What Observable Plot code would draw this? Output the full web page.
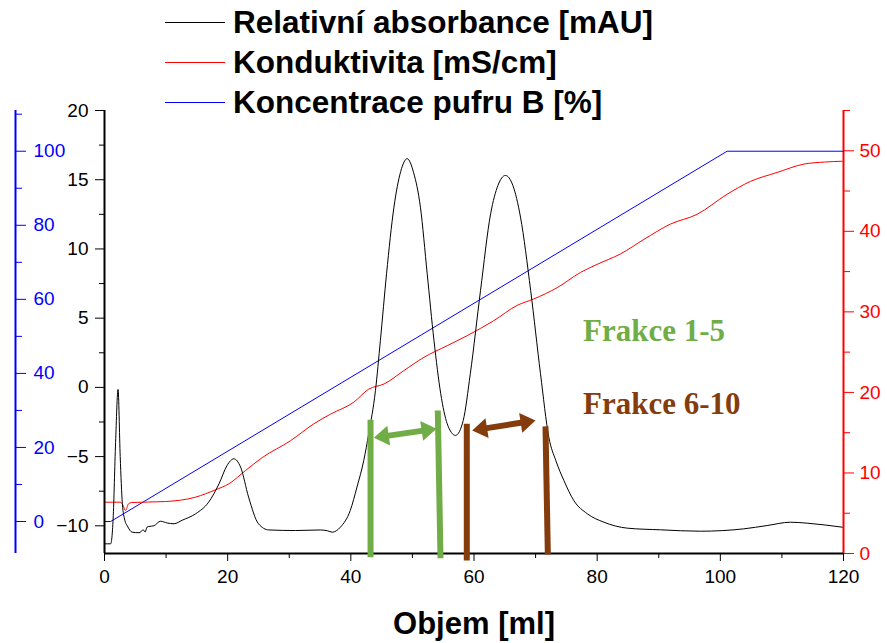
<!DOCTYPE html>
<html>
<head>
<meta charset="utf-8">
<script src="https://cdn.jsdelivr.net/npm/d3@7"></script>
<script src="https://cdn.jsdelivr.net/npm/@observablehq/plot@0.6"></script>
<style>
  body { margin: 0; background: #fff; }
  #wrap { position: relative; width: 887px; height: 643px; font-family: "Liberation Sans", Arial, sans-serif; }
  #wrap svg { position: absolute; left: 0; top: 0; }
  #legend { position: absolute; left: 165px; top: 2px; }
  .row { display: flex; align-items: center; height: 40px; }
  .row .sw { width: 60px; height: 0; border-top: 1px solid; margin-right: 8px; }
  .row span { font-weight: bold; font-size: 31.5px; color: #000; white-space: nowrap; }
</style>
</head>
<body>
<div id="wrap"><div id="legend"></div></div>
<script>
// ---- Data ----
const absorbanceMl = [0, 1.0, 1.4, 1.8, 2.2, 2.55, 2.9, 3.3, 3.7, 4.5, 5.6, 6.3, 6.6, 6.9, 7.2, 8.0, 9.1, 10.2, 11.3, 12.6, 14.8, 16.9, 18.6, 19.9, 21.0, 22.1, 23.4, 25.0, 26.7, 31.0, 35.1, 36.2, 37.0, 38.3, 39.9, 41.0, 42.1, 42.9, 44.0, 44.8, 45.8, 47.0, 48.1, 49.15, 50.2, 51.3, 52.4, 53.5, 54.6, 55.65, 57.0, 58.25, 59.4, 61.06, 62.7, 63.9, 65.1, 66.3, 67.55, 69.2, 70.8, 72.15, 73.3, 74.6, 76.2, 78.4, 81.1, 84.9, 90.3, 96.8, 103.8, 107.6, 111.4, 114.1, 119.8];
const absorbanceMAU = [-11.3, -11.3, -9.5, -4, -0.15, -5, -8.4, -9.6, -10.0, -10.46, -10.5, -10.3, -10.45, -10.1, -10.05, -10.0, -9.67, -9.8, -9.85, -9.6, -9.13, -8.3, -6.96, -5.64, -5.16, -5.76, -7.93, -9.85, -10.3, -10.34, -10.3, -10.36, -10.46, -10.1, -8.9, -7.2, -5.28, -3.35, -0.22, 3.39, 8.21, 13.02, 15.6, 16.52, 15.5, 13.02, 8.21, 3.39, -0.46, -2.63, -3.47, -2.39, 0.98, 7.0, 12.54, 14.6, 15.31, 14.6, 12.3, 7.0, 0.98, -3.6, -5.3, -6.73, -8.17, -9.13, -9.74, -10.17, -10.29, -10.39, -10.22, -9.98, -9.74, -9.81, -10.1];

const conductivityMl = [0, 2.6, 3.0, 3.4, 3.9, 4.4, 9.9, 14.8, 18.0, 20.2, 22.9, 25.6, 30.2, 34.0, 36.7, 40.5, 42.9, 45.4, 48.6, 51.85, 55.65, 58.9, 63.2, 67.0, 69.7, 73.5, 77.3, 80.0, 83.8, 87.6, 91.9, 96.2, 101.1, 104.9, 109.2, 113.6, 116.9, 119.8];
const conductivityMS = [6.37, 6.37, 6.0, 5.34, 6.17, 6.33, 6.45, 7.0, 7.9, 8.65, 10.3, 11.9, 14.0, 16.1, 17.3, 18.8, 20.4, 21.05, 22.7, 24.35, 25.8, 27.05, 28.9, 30.8, 31.6, 33.0, 34.9, 35.9, 37.2, 39.0, 40.9, 42.1, 44.6, 46.2, 47.3, 48.35, 48.6, 48.7];

const bufferMl = [0, 1.0, 101.1, 120];
const bufferPct = [0, 0, 100, 100];

// fraction boundaries (ml, mAU on left axis)
const fraction15Bars = [
  {x1: 43.2, y1: -12.27, x2: 43.2, y2: -2.34},
  {x1: 54.56, y1: -12.34, x2: 54.12, y2: -1.67}
];
const fraction610Bars = [
  {x1: 58.83, y1: -12.5, x2: 58.83, y2: -2.63},
  {x1: 71.99, y1: -12.07, x2: 71.61, y2: -2.82}
];
const fraction15Arrow = {x1: 43.74, y1: -3.64, x2: 53.92, y2: -2.99};
const fraction610Arrow = {x1: 59.71, y1: -3.11, x2: 69.99, y2: -2.39};
const fractionLabels = [
  {text: "Frakce 1-5", x: 77.7, y: 3.36},
  {text: "Frakce 6-10", x: 77.7, y: -1.93}
];

const legendItems = ["Relativní absorbance [mAU]", "Konduktivita [mS/cm]", "Koncentrace pufru B [%]"];
const legendColors = ["#000000", "#ff0000", "#0000ff"];

// tick values
const xTicks = [0, 20, 40, 60, 80, 100, 120];
const xMinorTicks = [10, 30, 50, 70, 90, 110];
const absTicks = [-10, -5, 0, 5, 10, 15, 20];
const absMinorTicks = [-7.5, -2.5, 2.5, 7.5, 12.5, 17.5];
const bufferTicks = [0, 20, 40, 60, 80, 100];
const bufferMinorTicks = [10, 30, 50, 70, 90, 110];
const condTicks = [0, 10, 20, 30, 40, 50];
const condMinorTicks = [5, 15, 25, 35, 45, 55];

// ---- Scales ----
const W = 887, H = 643, mL = 104, mR = 44, mT = 110, mB = 90;
const xDomain = [0, 120], absDomain = [-12, 20];
const condDomain = [0, 55], bufferDomain = [-8.64, 111];
const condToAbs = d3.scaleLinear(condDomain, absDomain);
const bufferToAbs = d3.scaleLinear(bufferDomain, absDomain);
const px = d3.scaleLinear(xDomain, [mL, W - mR]);
const py = d3.scaleLinear(absDomain, [H - mB, mT]);

const absData = absorbanceMl.map((x, i) => ({x, y: absorbanceMAU[i]}));
const condData = conductivityMl.map((x, i) => ({x, y: condToAbs(conductivityMS[i])}));
const bufData = bufferMl.map((x, i) => ({x, y: bufferToAbs(bufferPct[i])}));

// double arrow shape for Plot.vector
const doubleArrow = {
  draw(ctx, l) {
    const hl = 15, hw = 10, sw = 3;
    ctx.moveTo(0, 0);
    ctx.lineTo(hw, -hl); ctx.lineTo(sw, -hl); ctx.lineTo(sw, -(l - hl)); ctx.lineTo(hw, -(l - hl));
    ctx.lineTo(0, -l);
    ctx.lineTo(-hw, -(l - hl)); ctx.lineTo(-sw, -(l - hl)); ctx.lineTo(-sw, -hl); ctx.lineTo(-hw, -hl);
    ctx.closePath();
  }
};
function arrowMark(a, color) {
  const dxp = px(a.x2) - px(a.x1), dyp = py(a.y2) - py(a.y1);
  const len = Math.hypot(dxp, dyp);
  const rot = Math.atan2(dxp, -dyp) * 180 / Math.PI;
  return Plot.vector([a], {
    x: d => (d.x1 + d.x2) / 2, y: d => (d.y1 + d.y2) / 2,
    length: len, rotate: rot, anchor: "middle", shape: doubleArrow,
    fill: color, stroke: "none"
  });
}

const green = "#70AD47", brown = "#843C0C";
const tickFont = 19;

const plot = Plot.plot({
  width: W, height: H,
  marginLeft: mL, marginRight: mR, marginTop: mT, marginBottom: mB,
  style: {fontFamily: "'Liberation Sans', Arial, sans-serif", fontSize: tickFont + "px", background: "transparent", overflow: "visible"},
  x: {domain: xDomain},
  y: {domain: absDomain},
  marks: [
    // x axis
    Plot.axisX(xTicks, {tickSize: 8, tickPadding: 8, fontSize: tickFont, label: null}),
    Plot.axisX(xMinorTicks, {tickSize: 5, tickFormat: () => "", label: null}),
    Plot.text(["Objem [ml]"], {frameAnchor: "bottom", dy: 80, lineAnchor: "bottom", fontSize: 31, fontWeight: "bold"}),
    // left (absorbance) axis
    Plot.axisY(absTicks, {anchor: "left", tickSize: 9, tickPadding: 7, fontSize: tickFont, label: null}),
    Plot.axisY(absMinorTicks, {anchor: "left", tickSize: 5, tickFormat: () => "", label: null}),
    // outer left (buffer B) axis
    Plot.axisY(bufferTicks.map(bufferToAbs), {anchor: "right", dx: -828, tickSize: 10, tickPadding: 8, color: "#0000ff", fontSize: tickFont, tickFormat: d => String(Math.round(bufferToAbs.invert(d))), label: null}),
    Plot.axisY(bufferMinorTicks.map(bufferToAbs), {anchor: "right", dx: -828, tickSize: 6, color: "#0000ff", tickFormat: () => "", label: null}),
    Plot.ruleX([0], {stroke: "#0000ff", strokeWidth: 2, dx: -89}),
    // right (conductivity) axis
    Plot.axisY(condTicks.map(condToAbs), {anchor: "right", tickSize: 10, tickPadding: 6, color: "#ff0000", fontSize: tickFont, tickFormat: d => String(Math.round(condToAbs.invert(d))), label: null}),
    Plot.axisY(condMinorTicks.map(condToAbs), {anchor: "right", tickSize: 6, color: "#ff0000", tickFormat: () => "", label: null}),
    Plot.ruleX([120], {stroke: "#ff0000", strokeWidth: 2}),
    // series
    Plot.line(bufData, {x: "x", y: "y", stroke: "#0000ff", strokeWidth: 1}),
    Plot.line(condData, {x: "x", y: "y", stroke: "#ff0000", strokeWidth: 1, curve: "monotone-x"}),
    Plot.line(absData, {x: "x", y: "y", stroke: "#000", strokeWidth: 1, curve: "monotone-x"}),
    // frame lines
    Plot.ruleX([0], {stroke: "#000", strokeWidth: 2}),
    Plot.ruleY([-12], {stroke: "#000", strokeWidth: 2}),
    // fraction annotations
    Plot.link(fraction15Bars, {x1: "x1", y1: "y1", x2: "x2", y2: "y2", stroke: green, strokeWidth: 6, strokeLinecap: "butt"}),
    Plot.link(fraction610Bars, {x1: "x1", y1: "y1", x2: "x2", y2: "y2", stroke: brown, strokeWidth: 6, strokeLinecap: "butt"}),
    arrowMark(fraction15Arrow, green),
    arrowMark(fraction610Arrow, brown),
    Plot.text([fractionLabels[0]], {x: "x", y: "y", text: "text", fill: green, fontFamily: "'Liberation Serif', 'Times New Roman', serif", fontWeight: "bold", fontSize: 31, textAnchor: "start", lineAnchor: "bottom"}),
    Plot.text([fractionLabels[1]], {x: "x", y: "y", text: "text", fill: brown, fontFamily: "'Liberation Serif', 'Times New Roman', serif", fontWeight: "bold", fontSize: 31, textAnchor: "start", lineAnchor: "bottom"})
  ]
});

const wrap = document.getElementById("wrap");
wrap.insertBefore(plot, wrap.firstChild);

const legend = document.getElementById("legend");
legendItems.forEach((label, i) => {
  const row = document.createElement("div");
  row.className = "row";
  const sw = document.createElement("div");
  sw.className = "sw";
  sw.style.borderTopColor = legendColors[i];
  const sp = document.createElement("span");
  sp.textContent = label;
  row.appendChild(sw); row.appendChild(sp);
  legend.appendChild(row);
});
</script>
</body>
</html>
